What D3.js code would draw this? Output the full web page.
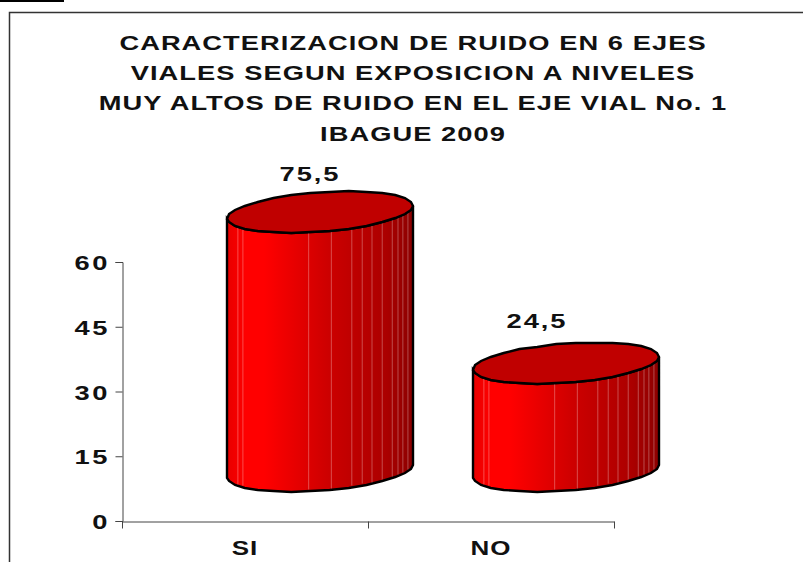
<html>
<meta charset="utf-8">
<title>Caracterizacion de ruido</title>
<style>body{margin:0;background:#fff}</style>
<div id="chartContainer"></div>
<script src="https://d3js.org/d3.v7.min.js"></script>
<script type="text/javascript">
var categories = ["SI", "NO"];
// height the bars are drawn at on the axis
var barValues = [60, 25];
// printed labels, the picture's bars do not follow them
var barLabels = ["75,5", "24,5"];
var yTicks = [0, 15, 30, 45, 60];
var titleLines = [
  "CARACTERIZACION DE RUIDO EN 6 EJES",
  "VIALES SEGUN EXPOSICION A NIVELES",
  "MUY ALTOS DE RUIDO EN EL EJE VIAL No. 1",
  "IBAGUE 2009"
];

var svg = d3.select("#chartContainer").append("svg")
  .attr("width", 803).attr("height", 562)
  .style("display", "block")
  .style("font-family", "'Liberation Sans', Arial, sans-serif");

// frame and the stray bar at the top corner
svg.append("rect").attr("x", 0).attr("y", 0).attr("width", 64).attr("height", 2).attr("fill", "#000");
svg.append("path").attr("d", "M9.5,562V12.5H803").attr("fill", "none").attr("stroke", "#333").attr("stroke-width", 1.5);

var y = d3.scaleLinear().domain([0, 60]).range([521, 262]);
var x = d3.scaleBand().domain(categories).range([122, 614]);

// the source image is stretched sideways, so text gets a horizontal scale
var stretch = 1.3;
function wideText(sel, px, py, size, anchor, spacing) {
  sel.attr("transform", "translate(" + px + "," + py + ") scale(" + stretch + ",1)")
    .attr("text-anchor", anchor || "middle")
    .style("font-size", size + "px").style("font-weight", "bold")
    .style("letter-spacing", (spacing || 0.8) + "px")
    .attr("fill", "#111");
}

var gy = svg.append("g").attr("transform", "translate(122.5,0)")
  .call(d3.axisLeft(y).tickValues(yTicks).tickSize(7).tickFormat(""));
yTicks.forEach(function (t) {
  wideText(svg.append("text").text(t), 110, y(t) + 8, 21, "end", 2);
});

var gx = svg.append("g").attr("transform", "translate(0,521.5)").call(d3.axisBottom(x).tickValues([]).tickSize(0));
d3.range(3).forEach(function (d) {
  gx.append("line")
    .attr("x1", 122.5 + d * x.bandwidth())
    .attr("x2", 122.5 + d * x.bandwidth())
    .attr("y1", 0).attr("y2", 7).attr("stroke", "#444");
});
svg.selectAll(".domain, .tick line").attr("stroke", "#444");

categories.forEach(function (c) {
  wideText(svg.append("text").text(c), x(c) + x.bandwidth() / 2, 555, 20);
});

// title
titleLines.forEach(function (d, i) {
  wideText(svg.append("text").text(d), 413, 49.5 + i * 30.4, 21);
});

// 3d cylinders
var defs = svg.append("defs");
var grad = defs.append("linearGradient").attr("id", "side");
[[0, "#e80000"], [0.1, "#ff0000"], [0.2, "#ff0000"], [0.55, "#cc0000"], [0.85, "#ac0000"], [1, "#8c0000"]].forEach(function (s) {
  grad.append("stop").attr("offset", s[0]).attr("stop-color", s[1]);
});

var rx = 93, ry = 19.5, tilt = 6.5, depth = 50, sideShift = 75;
var outlineAngles = d3.range(0, 360, 12);
var facetAngles = [19, 27, 33, 39, 48, 56, 63, 70, 83, 97, 146, 152];
// value labels are not centred on the cylinders in the original
var labelShiftX = [-10, -29];
var labelShiftY = [-31, -35];

function pt(cx, cy, deg) {
  var t = deg * Math.PI / 180;
  return [cx + rx * Math.cos(t), Math.round(cy + ry * Math.sin(t) - tilt * Math.cos(t))];
}

categories.forEach(function (c, i) {
  var cx = x(c) + x.bandwidth() / 2 + sideShift;
  var top = y(barValues[i]) - depth;
  var bottom = y(0) - depth;
  var g = svg.append("g");
  var front = d3.range(0, 181, 12);
  var lower = front.map(function (a) { return pt(cx, bottom, a); });
  var upper = front.map(function (a) { return pt(cx, top, a); }).reverse();
  g.append("path").attr("d", d3.line()(lower.concat(upper)) + "Z")
    .attr("fill", "url(#side)").attr("stroke", "#000").attr("stroke-width", 2.4);
  facetAngles.forEach(function (a) {
    var p = pt(cx, bottom, a), q = pt(cx, top, a);
    g.append("line").attr("x1", p[0]).attr("x2", q[0]).attr("y1", p[1] - 1.5).attr("y2", q[1] + 1)
      .attr("stroke", "#fff").attr("stroke-opacity", 0.3).attr("stroke-width", 1);
  });
  g.append("path").attr("d", d3.line()(outlineAngles.map(function (a) { return pt(cx, top, a); })) + "Z")
    .attr("fill", "#c00000").attr("stroke", "#000").attr("stroke-width", 2.4);
  wideText(g.append("text").text(barLabels[i]), cx + labelShiftX[i], top + labelShiftY[i], 21, "middle", 1.5);
});
</script>
</html>
